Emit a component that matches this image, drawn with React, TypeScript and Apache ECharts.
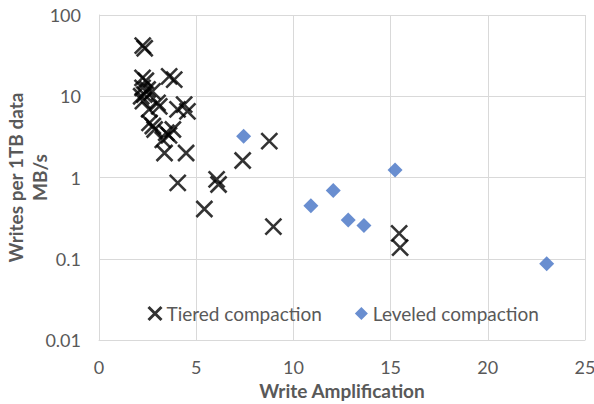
import React, { useEffect, useRef } from "react";
import * as echarts from "echarts";

const tieredName = "Tiered compaction";
const leveledName = "Leveled compaction";
const xAxisTitle = "Write Amplification";
const yAxisTitle = "Writes per 1TB data\nMB/s";
const yTickLabels = ["0.01", "0.1", "1", "10", "100"];

const tieredX = [
  2.25, 2.35, 2.24, 2.41, 3.61, 3.87, 2.24, 2.5, 2.33, 2.75, 2.17, 2.26,
  3.01, 3.1, 2.58, 4.04, 4.38, 4.55, 2.6, 2.77, 2.86, 3.46, 3.8, 3.28, 3.37,
  4.48, 3.6, 4.05, 5.42, 6.05, 6.15, 7.39, 8.76, 8.97, 15.44, 15.49,
];
const tieredY = [
  42, 39, 16.8, 15.5, 17.6, 16, 12.7, 12.1, 10.5, 11.5, 10, 8.7, 8.3, 7.5,
  6.9, 6.9, 7.9, 6.5, 4.7, 4.3, 3.9, 3.55, 3.9, 2.9, 2.0, 2.0, 3.3, 0.86,
  0.41, 0.95, 0.82, 1.62, 2.8, 0.248, 0.205, 0.137,
];
const leveledX = [7.44, 10.9, 12.05, 12.82, 13.63, 15.23, 23.03];
const leveledY = [3.22, 0.45, 0.69, 0.3, 0.257, 1.24, 0.087];

const crossSymbol = "path://M0,0L10,10M10,0L0,10";

export default function App() {
  const ref = useRef<HTMLDivElement>(null);
  useEffect(() => {
    const chart = echarts.init(ref.current!, null, { renderer: "svg" });
    const font = "Lato, 'Liberation Sans', sans-serif";
    const grey = "#595959";
    const gridColor = "#d9d9d9";
    chart.setOption({
      animation: false,
      backgroundColor: "#ffffff",
      textStyle: { fontFamily: font },
      grid: { left: 99, right: 9, top: 15, bottom: 64, containLabel: false, outerBoundsMode: "none" },
      legend: {
        left: 142,
        top: 299,
        itemWidth: 13,
        itemHeight: 13,
        itemGap: 33,
        textStyle: { color: grey, fontSize: 19, fontFamily: font },
        data: [
          { name: tieredName, icon: crossSymbol, itemStyle: { color: "rgba(0,0,0,0)", borderColor: "#000", borderWidth: 3 } },
          { name: leveledName, icon: "diamond" },
        ],
      },
      xAxis: {
        type: "value",
        min: 0,
        max: 25,
        interval: 5,
        name: xAxisTitle,
        nameLocation: "middle",
        nameGap: 41,
        nameMoveOverlap: false,
        nameTextStyle: { color: grey, fontSize: 19, fontWeight: "bold", fontFamily: font },
        axisLine: { show: true, lineStyle: { color: gridColor } },
        axisTick: { show: false },
        axisLabel: { color: grey, fontSize: 18, margin: 18, fontFamily: font },
        splitLine: { show: true, lineStyle: { color: gridColor, width: 1 } },
      },
      yAxis: {
        type: "log",
        logBase: 10,
        min: 0.01,
        max: 100,
        name: yAxisTitle,
        nameLocation: "middle",
        nameRotate: 90,
        nameGap: 48,
        nameMoveOverlap: false,
        nameTextStyle: { color: grey, fontSize: 19, fontWeight: "bold", fontFamily: font, lineHeight: 24 },
        axisLine: { show: true, lineStyle: { color: gridColor } },
        axisTick: { show: false },
        axisLabel: {
          color: grey,
          fontSize: 18,
          margin: 18,
          fontFamily: font,
          formatter: (v: number) => {
            const idx = Math.round(Math.log10(v)) + 2;
            return yTickLabels[idx] ?? String(v);
          },
        },
        splitLine: { show: true, lineStyle: { color: gridColor, width: 1 } },
      },
      series: [
        {
          name: tieredName,
          type: "scatter",
          symbol: crossSymbol,
          symbolSize: 16,
          itemStyle: { color: "rgba(0,0,0,0)", borderColor: "#000000", borderWidth: 2.6 },
          data: tieredX.map((x, i) => [x, tieredY[i]]),
          z: 3,
        },
        {
          name: leveledName,
          type: "scatter",
          symbol: "diamond",
          symbolSize: 15,
          itemStyle: { color: "#4472C4" },
          data: leveledX.map((x, i) => [x, leveledY[i]]),
          z: 2,
        },
      ],
    });
    return () => chart.dispose();
  }, []);
  return (
    <div
      ref={ref}
      style={{ position: "fixed", left: 0, top: 0, width: 594, height: 404, background: "#fff" }}
    />
  );
}
